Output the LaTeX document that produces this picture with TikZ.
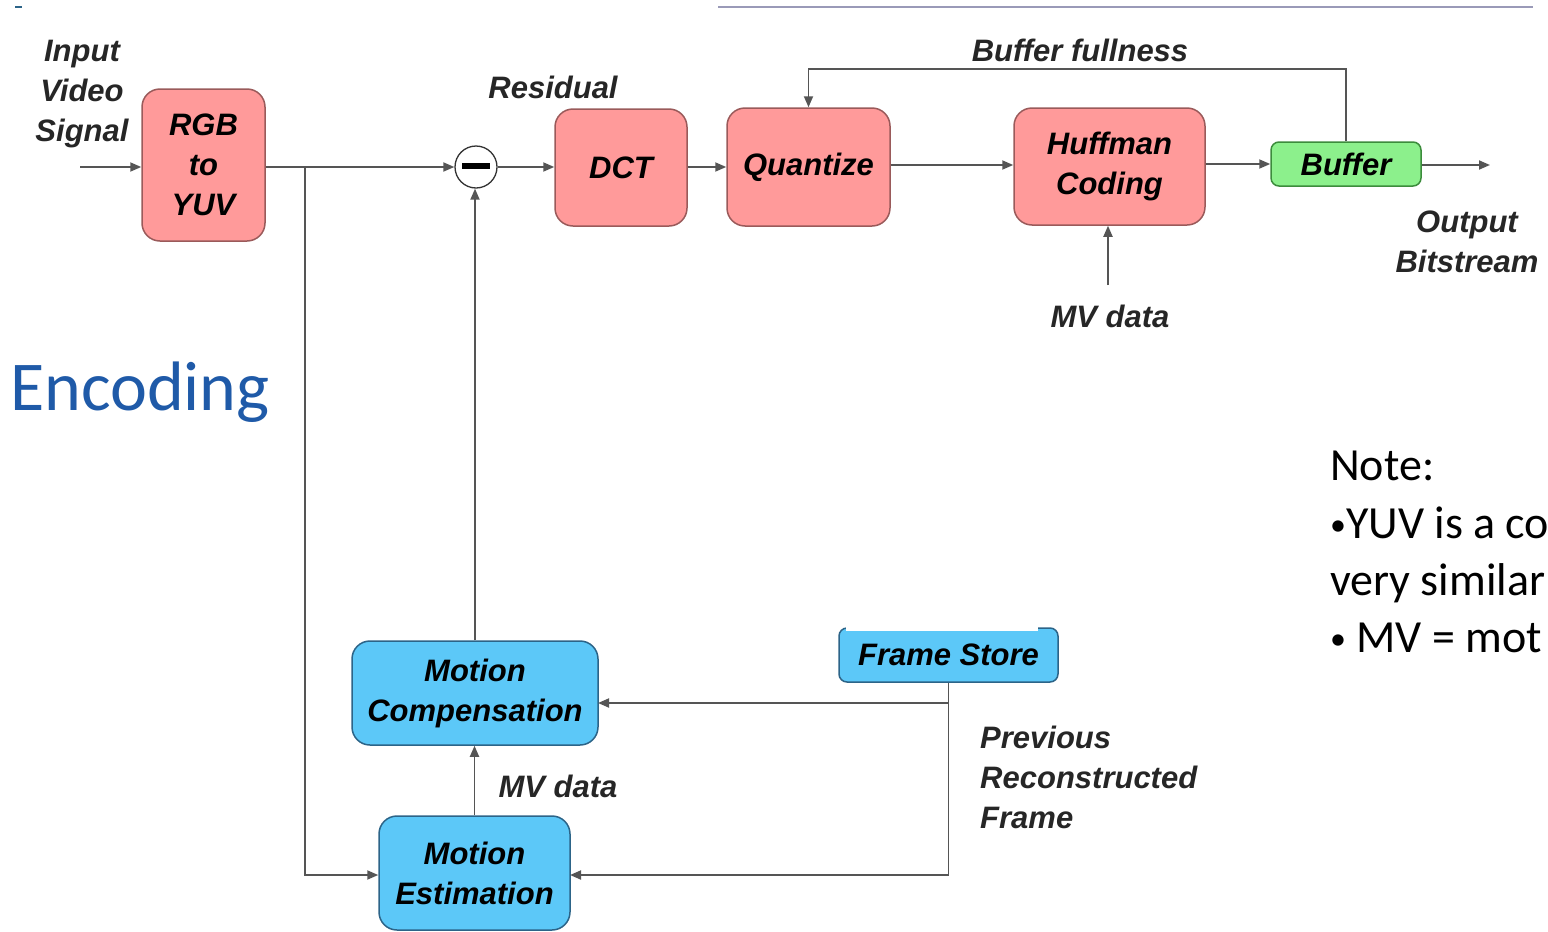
\documentclass[tikz,border=0pt]{standalone}
\usepackage{fontspec}
\setmainfont{Liberation Sans}
\newfontfamily\notefont{Carlito}
\usetikzlibrary{arrows.meta}
\definecolor{pinkf}{HTML}{FF9A9A}
\definecolor{pinkd}{HTML}{9A5A5A}
\definecolor{bluef}{HTML}{5CC8F8}
\definecolor{blued}{HTML}{2C6488}
\definecolor{greenf}{HTML}{8CF08C}
\definecolor{greend}{HTML}{3C8C3C}
\definecolor{linec}{HTML}{555555}
\definecolor{enc}{HTML}{1F5AA8}
\definecolor{rulec}{HTML}{9A9AB8}
\newcommand{\smbul}{{\fontsize{32}{32}\selectfont\raisebox{3pt}{•}}}
\begin{document}
\begin{tikzpicture}[x=1pt,y=-1pt,
  lbl/.style={font=\fontsize{31}{40}\selectfont\bfseries\itshape, text=black!85, align=center, inner sep=0},
  box/.style={draw, line width=1.5pt, rounded corners=18pt, font=\fontsize{31}{40}\selectfont\bfseries\itshape, align=center, inner sep=0},
  pinkbox/.style={box, fill=pinkf, draw=pinkd},
  bluebox/.style={box, fill=bluef, draw=blued},
  greenbox/.style={box, fill=greenf, draw=greend, rounded corners=8pt},
  conn/.style={draw=linec, line width=1.8pt, -{Triangle[length=11pt,width=9pt]}},
  wire/.style={draw=linec, line width=1.8pt},
  notetxt/.style={font=\notefont\fontsize{46}{58}\selectfont, anchor=base west, inner sep=0}]
\clip (0,0) rectangle (1548,932);
\useasboundingbox (0,0) rectangle (1548,932);

% top decorations
\draw[rulec, line width=1.5pt] (718,7) -- (1533,7);
\draw[blued, line width=2pt] (15,7) -- (22,7);

% boxes
\node[pinkbox, minimum width=123, minimum height=152] (rgb) at (203.5,165) {RGB\\to\\YUV};
\node[draw=black!80, line width=1.3pt, circle, minimum size=42, inner sep=0, fill=white] (sub) at (476,167) {};
\draw[line width=6pt] (462,166) -- (490,166);
\node[pinkbox, minimum width=132, minimum height=117] (dct) at (621,167.5) {DCT};
\node[pinkbox, minimum width=163, minimum height=118] (quant) at (808.5,167) {Quantize};
\node[pinkbox, minimum width=191, minimum height=117] (huff) at (1109.5,166.5) {Huffman\\Coding};
\node[greenbox, minimum width=150, minimum height=44] (buf) at (1346,164) {Buffer};
\node[bluebox, rounded corners=8pt, minimum width=219, minimum height=54] (fs) at (948.5,655) {Frame Store};
\fill[white] (846,623) rectangle (1038,631);
\node[bluebox, minimum width=246, minimum height=104] (mc) at (475,693) {Motion\\Compensation};
\node[bluebox, minimum width=191, minimum height=114] (me) at (474.5,873) {Motion\\Estimation};

% labels
\node[lbl] (inlbl) at (82,94) {Input\\Video\\Signal};
\node[lbl] (res) at (553,87) {Residual};
\node[lbl] (bfl) at (1080,50) {Buffer fullness};
\node[lbl] (outlbl) at (1467,241.5) {Output\\Bitstream};
\node[lbl] (mv1) at (1110,316) {MV data};
\node[lbl] (mv2) at (558,786) {MV data};
\node[lbl, align=left, anchor=west] (prev) at (980,777) {Previous\\Reconstructed\\Frame};
\node[font=\notefont\fontsize{70}{84}\selectfont, text=enc, anchor=west, inner sep=0] (encl) at (10,392) {Encoding};
\node[notetxt] (n1) at (1330,480) {Note:};
\node[notetxt] (n2) at (1330,538) {\smbul YUV is a co};
\node[notetxt] (n3) at (1330,595) {very similar};
\node[notetxt] (n4) at (1330,652) {\smbul\ MV = mot};

% coordinates
\coordinate (in) at (80,167);
\coordinate (br) at (305,167);
\coordinate (out) at (1490,165);
\coordinate (mv) at (1108,285);
\coordinate (mcin) at (598,703);
\coordinate (mein) at (570,875);

% connectors
\draw[conn] (in) -- (in -| rgb.west);
\draw[conn] (rgb.east |- sub) -- (sub.west);
\draw[conn] (br) |- (me.west |- mein);
\draw[conn] (sub.east) -- (sub.east -| dct.west);
\draw[conn] (dct.east |- sub) -- (quant.west |- sub);
\draw[conn] (quant.east |- 0,165) -- (huff.west |- 0,165);
\draw[conn] (huff.east |- buf.west) -- (buf.west);
\draw[conn] (buf.east |- out) -- (out);
\draw[conn] (buf.north) -- ++(0,-72) -| (quant.north);
\draw[conn] (mv) -- (mv |- huff.south);
\draw[conn] (mc.north) -- (mc.north |- sub.south);
\draw[conn] (me.north) -- (me.north |- mc.south);
\draw[wire] (fs.south) -- (fs.south |- mein);
\draw[conn] (fs.south |- mcin) -- (mcin);
\draw[conn] (fs.south |- mein) -- (mein);
\end{tikzpicture}
\end{document}
